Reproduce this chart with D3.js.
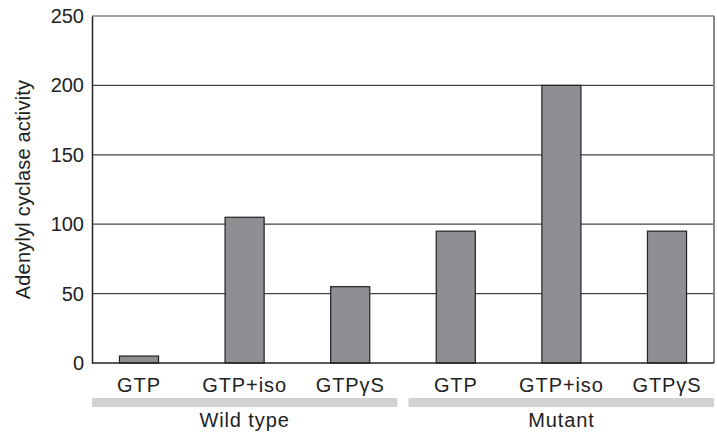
<!DOCTYPE html>
<html>
<head>
<meta charset="utf-8">
<script src="https://cdn.jsdelivr.net/npm/d3@7"></script>
<style>
  body { margin: 0; background: #fff; }
  svg text { font-family: "Liberation Sans", Arial, Helvetica, sans-serif; fill: #222; }
</style>
</head>
<body>
<svg id="chart" width="717" height="434"></svg>
<script>
// bar data
const categories = ['GTP', 'GTP+iso', 'GTPγS', 'GTP', 'GTP+iso', 'GTPγS']
const groups = ['Wild type', 'Wild type', 'Wild type', 'Mutant', 'Mutant', 'Mutant']
const values = [5, 105, 55, 95, 200, 95]
const groupNames = ['Wild type', 'Mutant']
const yTicks = [0, 50, 100, 150, 200, 250]

const svg = d3.select('#chart')
const plotLeft = 92, plotRight = 714, plotTop = 16, plotBottom = 363

const x = d3.scaleBand()
    .domain(d3.range(values.length))
    .range([plotLeft, plotRight])
    .paddingInner(0.63)
    .paddingOuter(0.26)

const y = d3.scaleLinear()
    .domain([0, 250])
    .range([plotBottom, plotTop])

// gridlines
svg.append('g')
    .selectAll('line')
    .data(yTicks.filter(d => d > 0))
    .join('line')
    .attr('x1', plotLeft)
    .attr('x2', plotRight)
    .attr('y1', d => y(d))
    .attr('y2', d => y(d))
    .attr('stroke', '#444')
    .attr('stroke-width', 1.2)

// right border
svg.append('line')
    .attr('x1', plotRight).attr('x2', plotRight)
    .attr('y1', plotTop).attr('y2', plotBottom)
    .attr('stroke', '#888')
    .attr('stroke-width', 2)

// bars
svg.append('g')
    .selectAll('rect')
    .data(values)
    .join('rect')
    .attr('x', (d, i) => x(i))
    .attr('width', x.bandwidth())
    .attr('y', d => y(d))
    .attr('height', d => y(0) - y(d))
    .attr('fill', '#8e8e93')
    .attr('stroke', '#222')
    .attr('stroke-width', 1.2)

// y axis
const yAxis = svg.append('g')
    .attr('transform', `translate(${plotLeft},0)`)
    .call(d3.axisLeft(y).tickValues(yTicks).tickSize(0).tickPadding(8))
yAxis.select('.domain').attr('stroke', '#222').attr('stroke-width', 1.5)
yAxis.selectAll('text').attr('font-size', 20).attr('font-family', '"Liberation Sans", Arial, sans-serif').attr('fill', '#222')

// x baseline
svg.append('line')
    .attr('x1', plotLeft).attr('x2', plotRight)
    .attr('y1', plotBottom).attr('y2', plotBottom)
    .attr('stroke', '#222')
    .attr('stroke-width', 1.5)

// category labels
svg.append('g')
    .selectAll('text')
    .data(categories)
    .join('text')
    .attr('x', (d, i) => x(i) + x.bandwidth() / 2)
    .attr('y', 392)
    .attr('text-anchor', 'middle')
    .attr('font-size', 20)
    .attr('letter-spacing', 0.9)
    .text(d => d)

// group bands + labels
const groupSpan = groupNames.map(g => {
    const idx = d3.range(values.length).filter(i => groups[i] === g)
    return { name: g, first: d3.min(idx), last: d3.max(idx) }
})
const gapHalf = 5.5
function bandStart(d, i) {
    return i === 0 ? plotLeft : (x(d.first) + x(d.first - 1) + x.bandwidth()) / 2 + gapHalf
}
function bandEnd(d, i) {
    return i === groupSpan.length - 1 ? plotRight : (x(d.last) + x.bandwidth() + x(d.last + 1)) / 2 - gapHalf
}
svg.append('g')
    .selectAll('rect')
    .data(groupSpan)
    .join('rect')
    .attr('x', bandStart)
    .attr('width', (d, i) => bandEnd(d, i) - bandStart(d, i))
    .attr('y', 398)
    .attr('height', 9)
    .attr('fill', '#d2d2d2')

svg.append('g')
    .selectAll('text')
    .data(groupSpan)
    .join('text')
    .attr('x', d => (x(d.first) + x(d.last) + x.bandwidth()) / 2)
    .attr('y', 427)
    .attr('text-anchor', 'middle')
    .attr('font-size', 20)
    .attr('letter-spacing', 0.9)
    .text(d => d.name)

// y axis title
svg.append('text')
    .attr('transform', `translate(30,${(plotTop + plotBottom) / 2}) rotate(-90)`)
    .attr('text-anchor', 'middle')
    .attr('font-size', 20)
    .attr('letter-spacing', 0.2)
    .text('Adenylyl cyclase activity')
</script>
</body>
</html>
